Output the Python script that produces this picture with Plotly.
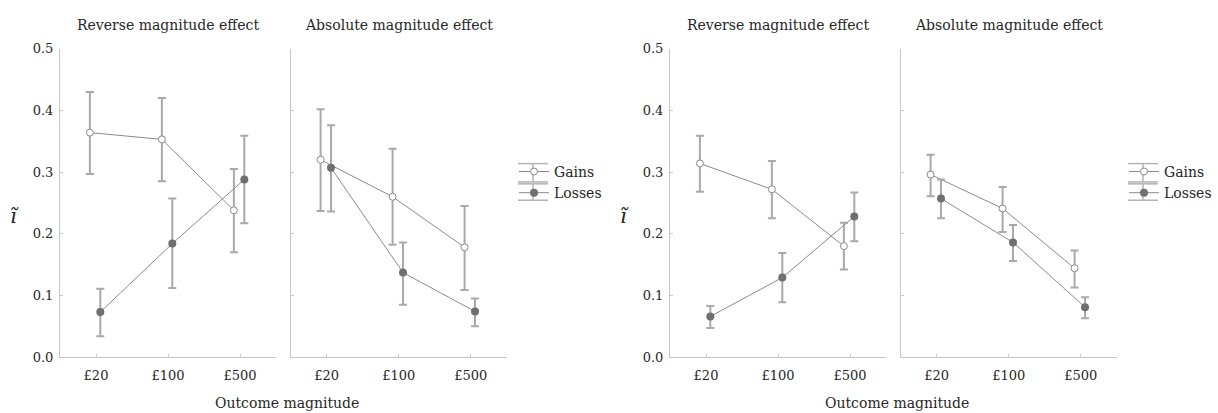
import plotly.graph_objects as go

W, H = 1218, 413

categories = ["£20", "£100", "£500"]
y_ticks = [0.0, 0.1, 0.2, 0.3, 0.4, 0.5]

# Left figure – Reverse magnitude effect
rev1_gains = [0.364, 0.353, 0.238]
rev1_gains_up = [0.066, 0.067, 0.067]
rev1_gains_dn = [0.067, 0.068, 0.068]
rev1_losses = [0.073, 0.184, 0.288]
rev1_losses_up = [0.038, 0.073, 0.071]
rev1_losses_dn = [0.039, 0.072, 0.071]

# Left figure – Absolute magnitude effect
abs1_gains = [0.320, 0.260, 0.178]
abs1_gains_up = [0.082, 0.078, 0.067]
abs1_gains_dn = [0.083, 0.078, 0.069]
abs1_losses = [0.307, 0.137, 0.074]
abs1_losses_up = [0.069, 0.049, 0.021]
abs1_losses_dn = [0.071, 0.052, 0.024]

# Right figure – Reverse magnitude effect
rev2_gains = [0.314, 0.272, 0.180]
rev2_gains_up = [0.045, 0.046, 0.038]
rev2_gains_dn = [0.046, 0.047, 0.038]
rev2_losses = [0.066, 0.129, 0.228]
rev2_losses_up = [0.017, 0.040, 0.039]
rev2_losses_dn = [0.019, 0.040, 0.040]

# Right figure – Absolute magnitude effect
abs2_gains = [0.296, 0.241, 0.144]
abs2_gains_up = [0.032, 0.035, 0.029]
abs2_gains_dn = [0.035, 0.038, 0.031]
abs2_losses = [0.257, 0.186, 0.081]
abs2_losses_up = [0.031, 0.028, 0.016]
abs2_losses_dn = [0.032, 0.030, 0.018]

panel_titles = ["Reverse magnitude effect", "Absolute magnitude effect",
                "Reverse magnitude effect", "Absolute magnitude effect"]
x_title = "Outcome magnitude"
y_title = "<i>ĩ</i>"

FONT = "DejaVu Serif"
TXT = "#262626"
AXIS = "#c6c6c6"
LINE = "#8a8a8a"
ERR = "#a9a9a9"
LOSS_FILL = "#6f6f6f"
GAIN_OFF = -0.085
LOSS_OFF = 0.06

# panel pixel extents
px_domains = [(60, 276), (290.7, 506.7), (670, 886), (900.7, 1116.7)]
y_bot, y_top = 363.3, 43.3

fig = go.Figure()

panels = [
    (rev1_gains, rev1_gains_up, rev1_gains_dn, rev1_losses, rev1_losses_up, rev1_losses_dn, "legend"),
    (abs1_gains, abs1_gains_up, abs1_gains_dn, abs1_losses, abs1_losses_up, abs1_losses_dn, "legend"),
    (rev2_gains, rev2_gains_up, rev2_gains_dn, rev2_losses, rev2_losses_up, rev2_losses_dn, "legend2"),
    (abs2_gains, abs2_gains_up, abs2_gains_dn, abs2_losses, abs2_losses_up, abs2_losses_dn, "legend2"),
]

idx = list(range(len(categories)))
for i, (g, gu, gd, l, lu, ld, leg) in enumerate(panels):
    xa = "x" if i == 0 else f"x{i+1}"
    ya = "y" if i == 0 else f"y{i+1}"
    show = i in (1, 3)
    fig.add_trace(go.Scatter(
        x=[k + GAIN_OFF for k in idx], y=g, mode="lines+markers", name="Gains",
        xaxis=xa, yaxis=ya, legend=leg, showlegend=show,
        line=dict(color=LINE, width=1),
        marker=dict(symbol="circle", size=7, color="white", line=dict(color=LINE, width=1)),
        error_y=dict(type="data", array=gu, arrayminus=gd, color=ERR, thickness=2, width=4),
    ))
    fig.add_trace(go.Scatter(
        x=[k + LOSS_OFF for k in idx], y=l, mode="lines+markers", name="Losses",
        xaxis=xa, yaxis=ya, legend=leg, showlegend=show,
        line=dict(color=LINE, width=1),
        marker=dict(symbol="circle", size=8, color=LOSS_FILL, line=dict(color=LOSS_FILL, width=0)),
        error_y=dict(type="data", array=lu, arrayminus=ld, color=ERR, thickness=2, width=4),
    ))

y_dom = [(H - y_bot) / H, (H - y_top) / H]
layout = {}
for i, (a, b) in enumerate(px_domains):
    xk = "xaxis" if i == 0 else f"xaxis{i+1}"
    yk = "yaxis" if i == 0 else f"yaxis{i+1}"
    ya = "y" if i == 0 else f"y{i+1}"
    xa = "x" if i == 0 else f"x{i+1}"
    layout[xk] = dict(
        domain=[a / W, b / W], anchor=ya, range=[-0.5, 2.5],
        tickvals=idx, ticktext=categories, showgrid=False, zeroline=False,
        showline=True, linecolor=AXIS, linewidth=1,
        ticks="inside", ticklen=3, tickcolor=AXIS, tickwidth=1,
        ticklabelstandoff=6,
        tickfont=dict(family=FONT, size=13, color=TXT),
    )
    layout[yk] = dict(
        domain=y_dom, anchor=xa, range=[0, 0.5],
        tickvals=y_ticks, tickformat=".1f", showticklabels=(i in (0, 2)),
        showgrid=False, zeroline=False,
        showline=True, linecolor=AXIS, linewidth=1,
        ticks="inside", ticklen=3, tickcolor=AXIS, tickwidth=1,
        ticklabelstandoff=3,
        tickfont=dict(family=FONT, size=13, color=TXT),
    )

annotations = []
for i, (a, b) in enumerate(px_domains):
    annotations.append(dict(
        text=panel_titles[i], x=(a + b) / 2 / W, y=(H - 19) / H, xref="paper", yref="paper",
        xanchor="center", yanchor="middle", showarrow=False,
        font=dict(family=FONT, size=14, color=TXT)))
for cx, ytx in [(287 / W, 14 / W), (897 / W, 624 / W)]:
    annotations.append(dict(
        text=x_title, x=cx, y=0, xref="paper", yref="paper",
        xanchor="center", yanchor="bottom", showarrow=False, yshift=-8,
        font=dict(family=FONT, size=14, color=TXT)))
    annotations.append(dict(
        text=y_title, x=ytx, y=(H - 217) / H, xref="paper", yref="paper",
        xanchor="center", yanchor="middle", showarrow=False,
        font=dict(family=FONT, size=21, color=TXT)))

# legend symbol decoration: error-bar caps and stem (Excel-style legend key)
shapes = []
LEG_CAP = "#b3b3b3"
for x0 in (518, 1128):
    for cy, half in [(172, 9.5), (192, 8.5)]:
        for yy in (cy - half, cy + half):
            shapes.append(dict(type="line", xref="paper", yref="paper",
                               x0=x0 / W, x1=(x0 + 30) / W, y0=(H - yy) / H, y1=(H - yy) / H,
                               line=dict(color=LEG_CAP, width=1.5), layer="below"))
        shapes.append(dict(type="line", xref="paper", yref="paper",
                           x0=(x0 + 15) / W, x1=(x0 + 15) / W,
                           y0=(H - cy - half) / H, y1=(H - cy + half) / H,
                           line=dict(color=LEG_CAP, width=1.5), layer="below"))

fig.update_layout(
    width=W, height=H, margin=dict(l=0, r=0, t=0, b=0),
    paper_bgcolor="white", plot_bgcolor="white",
    annotations=annotations, shapes=shapes,
    legend=dict(x=514 / W, y=(H - 182) / H, xanchor="left", yanchor="middle",
                font=dict(family=FONT, size=14, color=TXT), itemwidth=30,
                tracegroupgap=0, bgcolor="rgba(0,0,0,0)"),
    legend2=dict(x=1124 / W, y=(H - 182) / H, xanchor="left", yanchor="middle",
                 font=dict(family=FONT, size=14, color=TXT), itemwidth=30,
                 tracegroupgap=0, bgcolor="rgba(0,0,0,0)"),
    **layout,
)

fig.write_html("out.html")
